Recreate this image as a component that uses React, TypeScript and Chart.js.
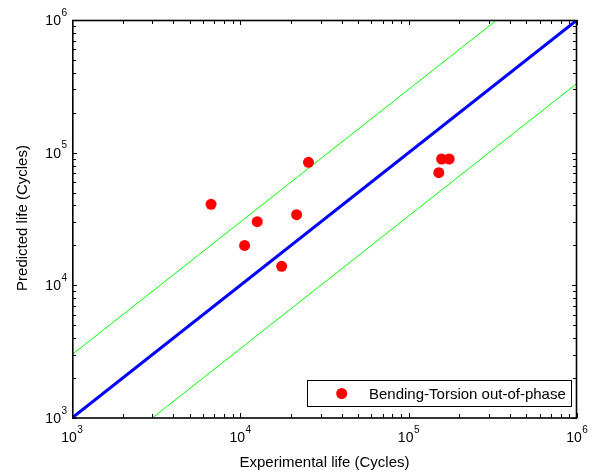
import React, { useEffect, useRef } from "react";
import { Chart, registerables } from "chart.js";

Chart.register(...registerables);

// Measured fatigue lives (cycles)
const experimentalLife = [6700, 10600, 12600, 17600, 21600, 25400, 151000, 157000, 174000];
const predictedLife = [40800, 20000, 30200, 13900, 34100, 84600, 70600, 89600, 89600];

// Reference lines: perfect agreement and factor-of-3 scatter band
const unityX = [1e3, 1e6];
const unityY = [1e3, 1e6];
const upperBandX = [1e3, 1e6 / 3];
const upperBandY = [3e3, 1e6];
const lowerBandX = [3e3, 1e6];
const lowerBandY = [1e3, 1e6 / 3];

const decades = [3, 4, 5, 6];
const minorMultipliers = [2, 3, 4, 5, 6, 7, 8, 9];

const seriesLabel = "Bending-Torsion out-of-phase";
const xTitle = "Experimental life (Cycles)";
const yTitle = "Predicted life (Cycles)";

const FONT = "'Liberation Sans', Arial, Helvetica, sans-serif";

const pairs = (xs: number[], ys: number[]) => xs.map((x, i) => ({ x, y: ys[i] }));

const axesPlugin = {
  id: "matlabAxes",
  afterDraw(chart: any) {
    const { ctx, chartArea } = chart;
    const xs = chart.scales.x;
    const ys = chart.scales.y;
    const { left, right, top, bottom } = chartArea;

    ctx.save();
    ctx.strokeStyle = "#000";

    // frame
    ctx.lineWidth = 1.6;
    ctx.strokeRect(left + 0.8, top + 0.5, right - left - 1.3, bottom - top - 0.5);

    ctx.lineWidth = 1;
    const tick = (v: number, len: number) => {
      const px = Math.round(xs.getPixelForValue(v)) + 0.5;
      const py = Math.round(ys.getPixelForValue(v)) + 0.5;
      ctx.beginPath();
      // bottom & top
      ctx.moveTo(px, bottom);
      ctx.lineTo(px, bottom - len);
      ctx.moveTo(px, top);
      ctx.lineTo(px, top + len);
      // left & right
      ctx.moveTo(left, py);
      ctx.lineTo(left + len, py);
      ctx.moveTo(right, py);
      ctx.lineTo(right - len, py);
      ctx.stroke();
    };

    decades.forEach((d) => {
      tick(Math.pow(10, d), 5);
      if (d < decades[decades.length - 1]) {
        minorMultipliers.forEach((m) => tick(m * Math.pow(10, d), 4));
      }
    });

    // tick labels 10^k
    ctx.fillStyle = "#000";
    ctx.textBaseline = "alphabetic";
    ctx.textAlign = "left";
    const mainFont = `14px ${FONT}`;
    const supFont = `10px ${FONT}`;
    const titleFont = `15px ${FONT}`;
    decades.forEach((d) => {
      const base = "10";
      const exp = String(d);
      ctx.font = mainFont;
      const wb = ctx.measureText(base).width;
      ctx.font = supFont;
      const we = ctx.measureText(exp).width;
      const total = wb + we + 0.5;

      // x axis
      const px = xs.getPixelForValue(Math.pow(10, d));
      const sx = px - total / 2;
      const bx = bottom + 23.5;
      ctx.font = mainFont;
      ctx.fillText(base, sx, bx);
      ctx.font = supFont;
      ctx.fillText(exp, sx + wb + 0.5, bx - 9);

      // y axis
      const py = ys.getPixelForValue(Math.pow(10, d));
      const ex = left - 5 - total;
      const by = py + 5;
      ctx.font = mainFont;
      ctx.fillText(base, ex, by);
      ctx.font = supFont;
      ctx.fillText(exp, ex + wb + 0.5, by - 9.5);
    });

    // axis titles
    ctx.font = titleFont;
    ctx.textAlign = "center";
    ctx.fillText(xTitle, (left + right) / 2, 467);
    ctx.save();
    ctx.translate(26.5, 218);
    ctx.rotate(-Math.PI / 2);
    ctx.fillText(yTitle, 0, 0);
    ctx.restore();

    // legend box
    const lx = 307.5;
    const ly = 380.5;
    const lw = 264;
    const lh = 26;
    ctx.fillStyle = "#fff";
    ctx.fillRect(lx, ly, lw, lh);
    ctx.strokeStyle = "#000";
    ctx.lineWidth = 1;
    ctx.strokeRect(lx, ly, lw, lh);
    ctx.fillStyle = "#ff0000";
    ctx.beginPath();
    ctx.arc(341.7, 393.5, 5.5, 0, Math.PI * 2);
    ctx.fill();
    ctx.fillStyle = "#000";
    ctx.textAlign = "left";
    ctx.font = titleFont;
    ctx.fillText(seriesLabel, 369, 398.5);

    ctx.restore();
  },
};

export default function App() {
  const canvasRef = useRef<HTMLCanvasElement | null>(null);

  useEffect(() => {
    if (!canvasRef.current) return;
    const chart = new Chart(canvasRef.current, {
      type: "scatter",
      data: {
        datasets: [
          {
            label: seriesLabel,
            data: pairs(experimentalLife, predictedLife),
            backgroundColor: "#ff0000",
            borderWidth: 0,
            pointRadius: 5.5,
            pointHoverRadius: 5.5,
          },
          {
            label: "unity",
            data: pairs(unityX, unityY),
            showLine: true,
            borderColor: "#0000ff",
            borderWidth: 3,
            pointRadius: 0,
          },
          {
            label: "upper",
            data: pairs(upperBandX, upperBandY),
            showLine: true,
            borderColor: "#00ff00",
            borderWidth: 1,
            pointRadius: 0,
          },
          {
            label: "lower",
            data: pairs(lowerBandX, lowerBandY),
            showLine: true,
            borderColor: "#00ff00",
            borderWidth: 1,
            pointRadius: 0,
          },
        ],
      },
      options: {
        responsive: false,
        animation: false,
        devicePixelRatio: 1,
        layout: { padding: { left: 72, top: 20, right: 20, bottom: 56 } },
        plugins: { legend: { display: false }, tooltip: { enabled: false } },
        scales: {
          x: { type: "logarithmic", min: 1e3, max: 1e6, display: false },
          y: { type: "logarithmic", min: 1e3, max: 1e6, display: false },
        },
      },
      plugins: [axesPlugin],
    });
    return () => chart.destroy();
  }, []);

  return (
    <div style={{ position: "absolute", left: 0, top: 0, width: 597, height: 474, background: "#fff" }}>
      <canvas ref={canvasRef} width={597} height={474} />
    </div>
  );
}
